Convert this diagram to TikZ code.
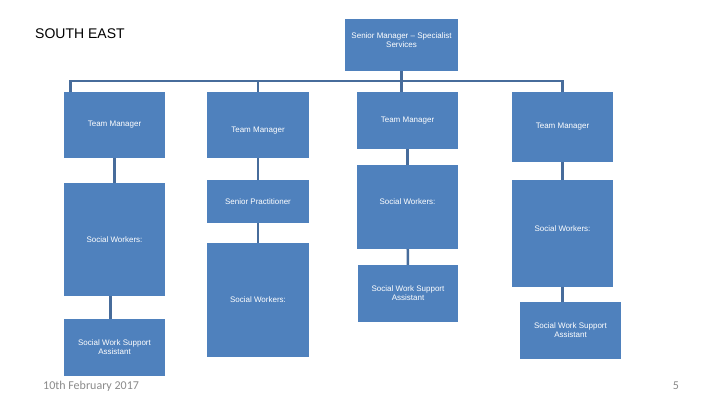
\documentclass[tikz,border=0pt]{standalone}
\usepackage{fontspec}
\setmainfont{Liberation Sans}
\newfontfamily\footfont{Carlito}
\definecolor{boxblue}{HTML}{4F81BD}
\definecolor{linkblue}{HTML}{476C9B}
\definecolor{footgray}{HTML}{8A8A8A}

\begin{document}
\begin{tikzpicture}[x=1pt, y=-1pt,
    unit/.style={rectangle, fill=boxblue, text=white, align=center, inner sep=1pt, minimum width=101pt, font=\fontsize{8}{9}\selectfont},
    unittext/.style={text=white, align=center, inner sep=0pt, font=\fontsize{8}{9}\selectfont},
    link/.style={draw=linkblue, line width=2.5pt},
    foot/.style={text=footgray, inner sep=0pt, font=\footfont\fontsize{12}{14}\selectfont}]
    \useasboundingbox (0,0) rectangle (720,405);
    % Nodes
    \node (region) [anchor=west, inner sep=0pt, font=\fontsize{14}{16}\selectfont] at (35,34) {SOUTH EAST};
    \node (senior) [unit, minimum width=113pt, minimum height=52pt, label={[unittext, yshift=4.5pt]center:Senior Manager -- Specialist\\Services}] at (401.5,45) {};
    \node (tm1) [unit, minimum height=66pt] at (114.5,125) {Team Manager};
    \node (tm2) [unit, minimum width=102pt, minimum height=66pt, label={[unittext, yshift=-6pt]center:Team Manager}] at (258,125) {};
    \node (tm3) [unit, minimum height=57pt] at (407.5,120.5) {Team Manager};
    \node (tm4) [unit, minimum height=70pt] at (562.5,127) {Team Manager};
    \node (sw1) [unit, minimum height=113pt] at (114.5,239.5) {Social Workers:};
    \node (sp2) [unit, minimum width=102pt, minimum height=43pt] at (258,201.5) {Senior Practitioner};
    \node (sw3) [unit, minimum height=84pt, label={[unittext, yshift=5pt]center:Social Workers:}] at (407.5,207) {};
    \node (sw4) [unit, minimum height=107pt, label={[unittext, yshift=4.5pt]center:Social Workers:}] at (562.5,233.5) {};
    \node (swsa1) [unit, minimum height=57pt] at (114.5,347.5) {Social Work Support\\Assistant};
    \node (sw2) [unit, minimum width=102pt, minimum height=114pt] at (258,300) {Social Workers:};
    \node (swsa3) [unit, minimum width=100pt, minimum height=57pt] at (408,293.5) {Social Work Support\\Assistant};
    \node (swsa4) [unit, minimum height=57pt] at (570.5,330.5) {Social Work Support\\Assistant};
    \coordinate (bus) at (0,81);
    \node (date) [foot, anchor=west] at (43,386) {10th February 2017};
    \node (page) [foot] at (676,386) {5};

    % Paths
    \draw[link] (senior.south) -- (senior.south |- tm3.north);
    \draw[link] ([xshift=-44pt]tm1.north) |- (tm4.north |- bus) -- (tm4.north);
    \draw[link] (tm2.north |- bus) -- (tm2.north);
    \draw[link] (tm1) -- (sw1);
    \draw[link] (tm2) -- (sp2);
    \draw[link] (tm3) -- (sw3);
    \draw[link] (tm4) -- (sw4);
    \draw[link] ([xshift=-4pt]sw1.south) -- ([xshift=-4pt]swsa1.north);
    \draw[link] (sp2) -- (sw2);
    \draw[link] (sw3) -- (swsa3);
    \draw[link] (sw4.south) -- (sw4.south |- swsa4.north);
\end{tikzpicture}
\end{document}
